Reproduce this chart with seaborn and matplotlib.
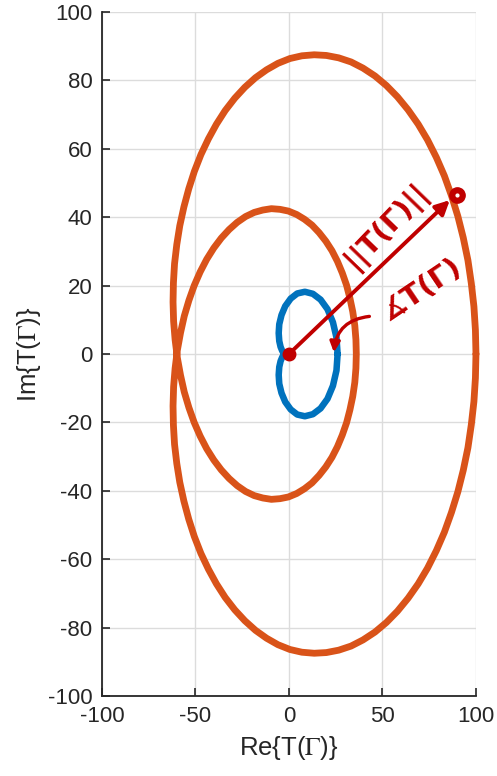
import numpy as np
import pandas as pd
import seaborn as sns
import matplotlib
matplotlib.use("Agg")
import matplotlib.pyplot as plt

# Image of the contour under T: outer + inner loop (orange), traversed in order
outer_re = [100.0, 99.7, 98.9, 97.5, 95.7, 93.2, 90.3, 86.9, 83.1, 78.8, 74.1, 69.1,
            63.7, 58.0, 52.1, 46.0, 39.6, 33.2, 26.6, 20.0, 13.5, 6.9, 0.5, -5.9,
            -12.0, -17.9, -23.6, -29.0, -34.1, -38.8, -43.1, -47.1, -50.6, -53.6, -56.2,
            -58.4, -60.0, -61.2, -61.8, -62.0, -61.7, -60.9, -59.7, -58.0, -56.0, -53.5,
            -50.7, -47.5, -44.0, -40.2, -36.2, -32.0, -27.7, -23.2, -18.6, -14.0, -9.4,
            -4.8, -0.3, 4.1, 8.3, 12.3, 16.1, 19.7, 23.0, 25.9, 28.5, 30.8, 32.6, 34.1,
            35.2, 35.8, 36.0,
            35.8, 35.2, 34.1, 32.6, 30.8, 28.5, 25.9, 23.0, 19.7, 16.1, 12.3, 8.3, 4.1,
            -0.3, -4.8, -9.4, -14.0, -18.6, -23.2, -27.7, -32.0, -36.2, -40.2, -44.0,
            -47.5, -50.7, -53.5, -56.0, -58.0, -59.7, -60.9, -61.7, -62.0, -61.8, -61.2,
            -60.0, -58.4, -56.2, -53.6, -50.6, -47.1, -43.1, -38.8, -34.1, -29.0, -23.6,
            -17.9, -12.0, -5.9, 0.5, 6.9, 13.5, 20.0, 26.6, 33.2, 39.6, 46.0, 52.1, 58.0,
            63.7, 69.1, 74.1, 78.8, 83.1, 86.9, 90.3, 93.2, 95.7, 97.5, 98.9, 99.7]
outer_im = [0.0, 7.0, 13.9, 20.7, 27.4, 34.0, 40.3, 46.3, 52.1, 57.5, 62.6, 67.2,
            71.4, 75.2, 78.5, 81.3, 83.6, 85.4, 86.6, 87.3, 87.5, 87.2, 86.4, 85.0,
            83.1, 80.8, 78.0, 74.8, 71.2, 67.2, 62.9, 58.3, 53.4, 48.3, 43.0, 37.5,
            32.0, 26.4, 20.8, 15.2, 9.6, 4.2, -1.1, -6.2, -11.1, -15.7, -20.0, -24.0,
            -27.7, -31.0, -33.9, -36.4, -38.5, -40.2, -41.4, -42.1, -42.5, -42.3, -41.8,
            -40.8, -39.4, -37.7, -35.5, -33.0, -30.2, -27.1, -23.7, -20.1, -16.3, -12.4,
            -8.3, -4.2, 0.0,
            4.2, 8.3, 12.4, 16.3, 20.1, 23.7, 27.1, 30.2, 33.0, 35.5, 37.7, 39.4, 40.8,
            41.8, 42.3, 42.5, 42.1, 41.4, 40.2, 38.5, 36.4, 33.9, 31.0, 27.7, 24.0, 20.0,
            15.7, 11.1, 6.2, 1.1, -4.2, -9.6, -15.2, -20.8, -26.4, -32.0, -37.5, -43.0,
            -48.3, -53.4, -58.3, -62.9, -67.2, -71.2, -74.8, -78.0, -80.8, -83.1, -85.0,
            -86.4, -87.2, -87.5, -87.3, -86.6, -85.4, -83.6, -81.3, -78.5, -75.2, -71.4,
            -67.2, -62.6, -57.5, -52.1, -46.3, -40.3, -34.0, -27.4, -20.7, -13.9, -7.0]

# Image of the small contour (blue)
small_re = [26.0, 25.4, 23.5, 20.6, 16.9, 12.8, 8.5, 4.4, 0.9, -2.0, -4.0, -5.2,
            -5.5, -5.2, -4.5, -3.6, -2.8, -2.2, -2.0, -2.2, -2.8, -3.6, -4.5, -5.2,
            -5.5, -5.2, -4.0, -2.0, 0.9, 4.4, 8.5, 12.8, 16.9, 20.6, 23.5, 25.4]
small_im = [0.0, 4.8, 9.3, 13.1, 15.9, 17.6, 18.2, 17.7, 16.2, 14.0, 11.4, 8.7,
            6.1, 3.8, 2.1, 0.9, 0.3, 0.0, 0.0, -0.0, -0.3, -0.9, -2.1, -3.8, -6.1,
            -8.7, -11.4, -14.0, -16.2, -17.7, -18.2, -17.6, -15.9, -13.1, -9.3, -4.8]

# Sample point marked by the hand-drawn vector
point_re, point_im = 89.7, 46.4

x_ticks = [-100, -50, 0, 50, 100]
y_ticks = list(range(-100, 101, 20))

sns.set_theme(style="whitegrid")
plt.rcParams["font.family"] = ["Liberation Sans", "DejaVu Sans"]
plt.rcParams["mathtext.fontset"] = "stix"
plt.rcParams["axes.unicode_minus"] = False

ink = "#262626"
orange = "#D95319"
blue = "#0072BD"
red = "#C00000"

fig = plt.figure(figsize=(4.97, 7.76), dpi=100)
ax = fig.add_axes([0.2052, 0.1031, 0.7525, 0.8814])
ax.set_facecolor("white")


def closed(xs, ys, name):
    xs = list(xs) + [xs[0]]
    ys = list(ys) + [ys[0]]
    return pd.DataFrame({"re": xs, "im": ys, "curve": name})


orange_df = closed(outer_re, outer_im, "T1")
blue_df = closed(small_re, small_im, "T2")

line_kw = dict(sort=False, estimator=None, ax=ax, clip_on=False, zorder=3,
               solid_joinstyle="round", solid_capstyle="round")
sns.lineplot(data=orange_df, x="re", y="im", color=orange, lw=4.9, **line_kw)
sns.lineplot(data=blue_df, x="re", y="im", color=blue, lw=4.7, **line_kw)

ax.set_xlim(-100, 100)
ax.set_ylim(-100, 100)
ax.set_xticks(x_ticks)
ax.set_yticks(y_ticks)

ax.grid(True, color="#DCDCDC", lw=1.0)
for side in ["top", "right"]:
    ax.spines[side].set_visible(False)
for side in ["left", "bottom"]:
    ax.spines[side].set_visible(True)
    ax.spines[side].set_color(ink)
    ax.spines[side].set_linewidth(1.3)

ax.tick_params(axis="both", direction="in", length=6, width=1.2, color=ink,
               labelcolor=ink, labelsize=16, pad=7,
               bottom=True, left=True)

ax.set_xlabel(r"Re{T($\Gamma$)}", fontsize=18.5, color=ink, labelpad=5)
ax.set_ylabel(r"Im{T($\Gamma$)}", fontsize=18.5, color=ink, labelpad=3)

# Hand-drawn vector from the origin to the sample point
ax.annotate("", xy=(86, 45), xytext=(0, 0),
            arrowprops=dict(arrowstyle="-|>,head_length=0.7,head_width=0.35",
                            color=red, lw=2.8, shrinkA=0, shrinkB=0,
                            capstyle="round", joinstyle="round"),
            zorder=5)
ax.plot([0], [0], "o", color=red, ms=9, zorder=6)
ax.plot([point_re], [point_im], "o", color=red, ms=11, zorder=6)
ax.plot([point_re], [point_im], "o", color="white", ms=2, zorder=7)

# Angle arc
ax.annotate("", xy=(24, 0.5), xytext=(43, 11),
            arrowprops=dict(arrowstyle="-|>,head_length=0.5,head_width=0.25",
                            connectionstyle="arc3,rad=0.4",
                            color=red, lw=2.4, shrinkA=0, shrinkB=0),
            zorder=5)

ax.text(52, 37.5, "||T(Γ)||", rotation=46, color=red, fontsize=21,
        fontweight="bold", ha="center", va="center", rotation_mode="anchor",
        family=["DejaVu Sans"], zorder=6)
ax.text(71, 19, "∡T(Γ)", rotation=34, color=red, fontsize=21,
        fontweight="bold", ha="center", va="center", rotation_mode="anchor",
        family=["DejaVu Sans"], zorder=6)

fig.savefig("out.png", dpi=100)
